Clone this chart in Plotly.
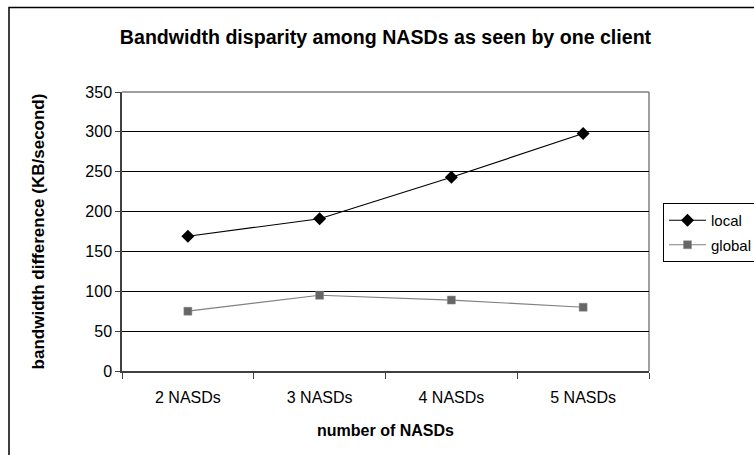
import plotly.graph_objects as go

# Categories and measured bandwidth differences (KB/second)
categories = ["2 NASDs", "3 NASDs", "4 NASDs", "5 NASDs"]
local_vals = [169, 191, 243, 298]
global_vals = [75, 95, 89, 80]

W, H = 754, 455
L, R, T, B = 122, 105, 92, 84  # plot area: x 122..649, y 92..371
pw, ph = W - L - R, H - T - B


def px_to_paper_x(x):
    return (x - L) / pw


def px_to_paper_y(y):
    return (H - B - y) / ph


FONT = "Liberation Sans, Arial, sans-serif"

fig = go.Figure()
fig.add_trace(go.Scatter(
    x=categories, y=local_vals, name="local", mode="lines+markers",
    line=dict(color="#000000", width=1.2),
    marker=dict(symbol="diamond", size=10, color="#000000"),
    legendgroup="a",
))
fig.add_trace(go.Scatter(
    x=categories, y=global_vals, name="global", mode="lines+markers",
    line=dict(color="#808080", width=1.2),
    marker=dict(symbol="square", size=8, color="#666666",
                line=dict(color="#8a8a8a", width=0.5)),
    legendgroup="b",
))

shapes = [
    # plot-area frame (top and right edges)
    dict(type="line", xref="paper", yref="paper", x0=0, x1=1, y0=1, y1=1,
         line=dict(color="#808080", width=1.5), layer="below"),
    dict(type="line", xref="paper", yref="paper", x0=1, x1=1, y0=0, y1=1,
         line=dict(color="#808080", width=1.5), layer="below"),
    # chart-area frame
    dict(type="rect", xref="paper", yref="paper",
         x0=px_to_paper_x(9), x1=1.6, y0=-0.5, y1=px_to_paper_y(7.5),
         line=dict(color="#000000", width=1.5), layer="below"),
]

fig.update_layout(
    width=W, height=H,
    margin=dict(l=L, r=R, t=T, b=B, autoexpand=False),
    paper_bgcolor="white", plot_bgcolor="white",
    font=dict(family=FONT, color="#000000", size=16),
    title=dict(
        text="<b>Bandwidth disparity among NASDs as seen by one client</b>",
        font=dict(family=FONT, size=19.6, color="#000000"),
        x=0.5, xref="paper", xanchor="center",
        y=1 - 37 / H, yref="container", yanchor="middle",
    ),
    xaxis=dict(
        type="category", range=[-0.5, 3.5],
        showgrid=False, zeroline=False,
        showline=True, linecolor="#404040", linewidth=1.5,
        ticks="outside", tickson="boundaries", ticklen=6,
        tickcolor="#404040", tickwidth=1.2,
        ticklabelstandoff=11,
        tickfont=dict(family=FONT, size=16),
        title=dict(text="<b>number of NASDs</b>",
                   font=dict(family=FONT, size=16), standoff=20),
    ),
    yaxis=dict(
        range=[0, 350], dtick=50, tick0=0,
        showgrid=True, gridcolor="#000000", gridwidth=1,
        zeroline=False,
        showline=True, linecolor="#404040", linewidth=1.5,
        ticks="outside", ticklen=5, tickcolor="#404040", tickwidth=1.2,
        tickfont=dict(family=FONT, size=16),
        title=dict(text="<b>bandwidth difference (KB/second)</b>",
                   font=dict(family=FONT, size=17), standoff=36),
    ),
    legend=dict(
        x=px_to_paper_x(663), xanchor="left",
        y=px_to_paper_y(203), yanchor="top",
        bordercolor="#000000", borderwidth=1, bgcolor="white",
        font=dict(family=FONT, size=15),
        itemwidth=37,
        tracegroupgap=2, traceorder="grouped",
    ),
    shapes=shapes,
)

fig.write_html("out.html")
